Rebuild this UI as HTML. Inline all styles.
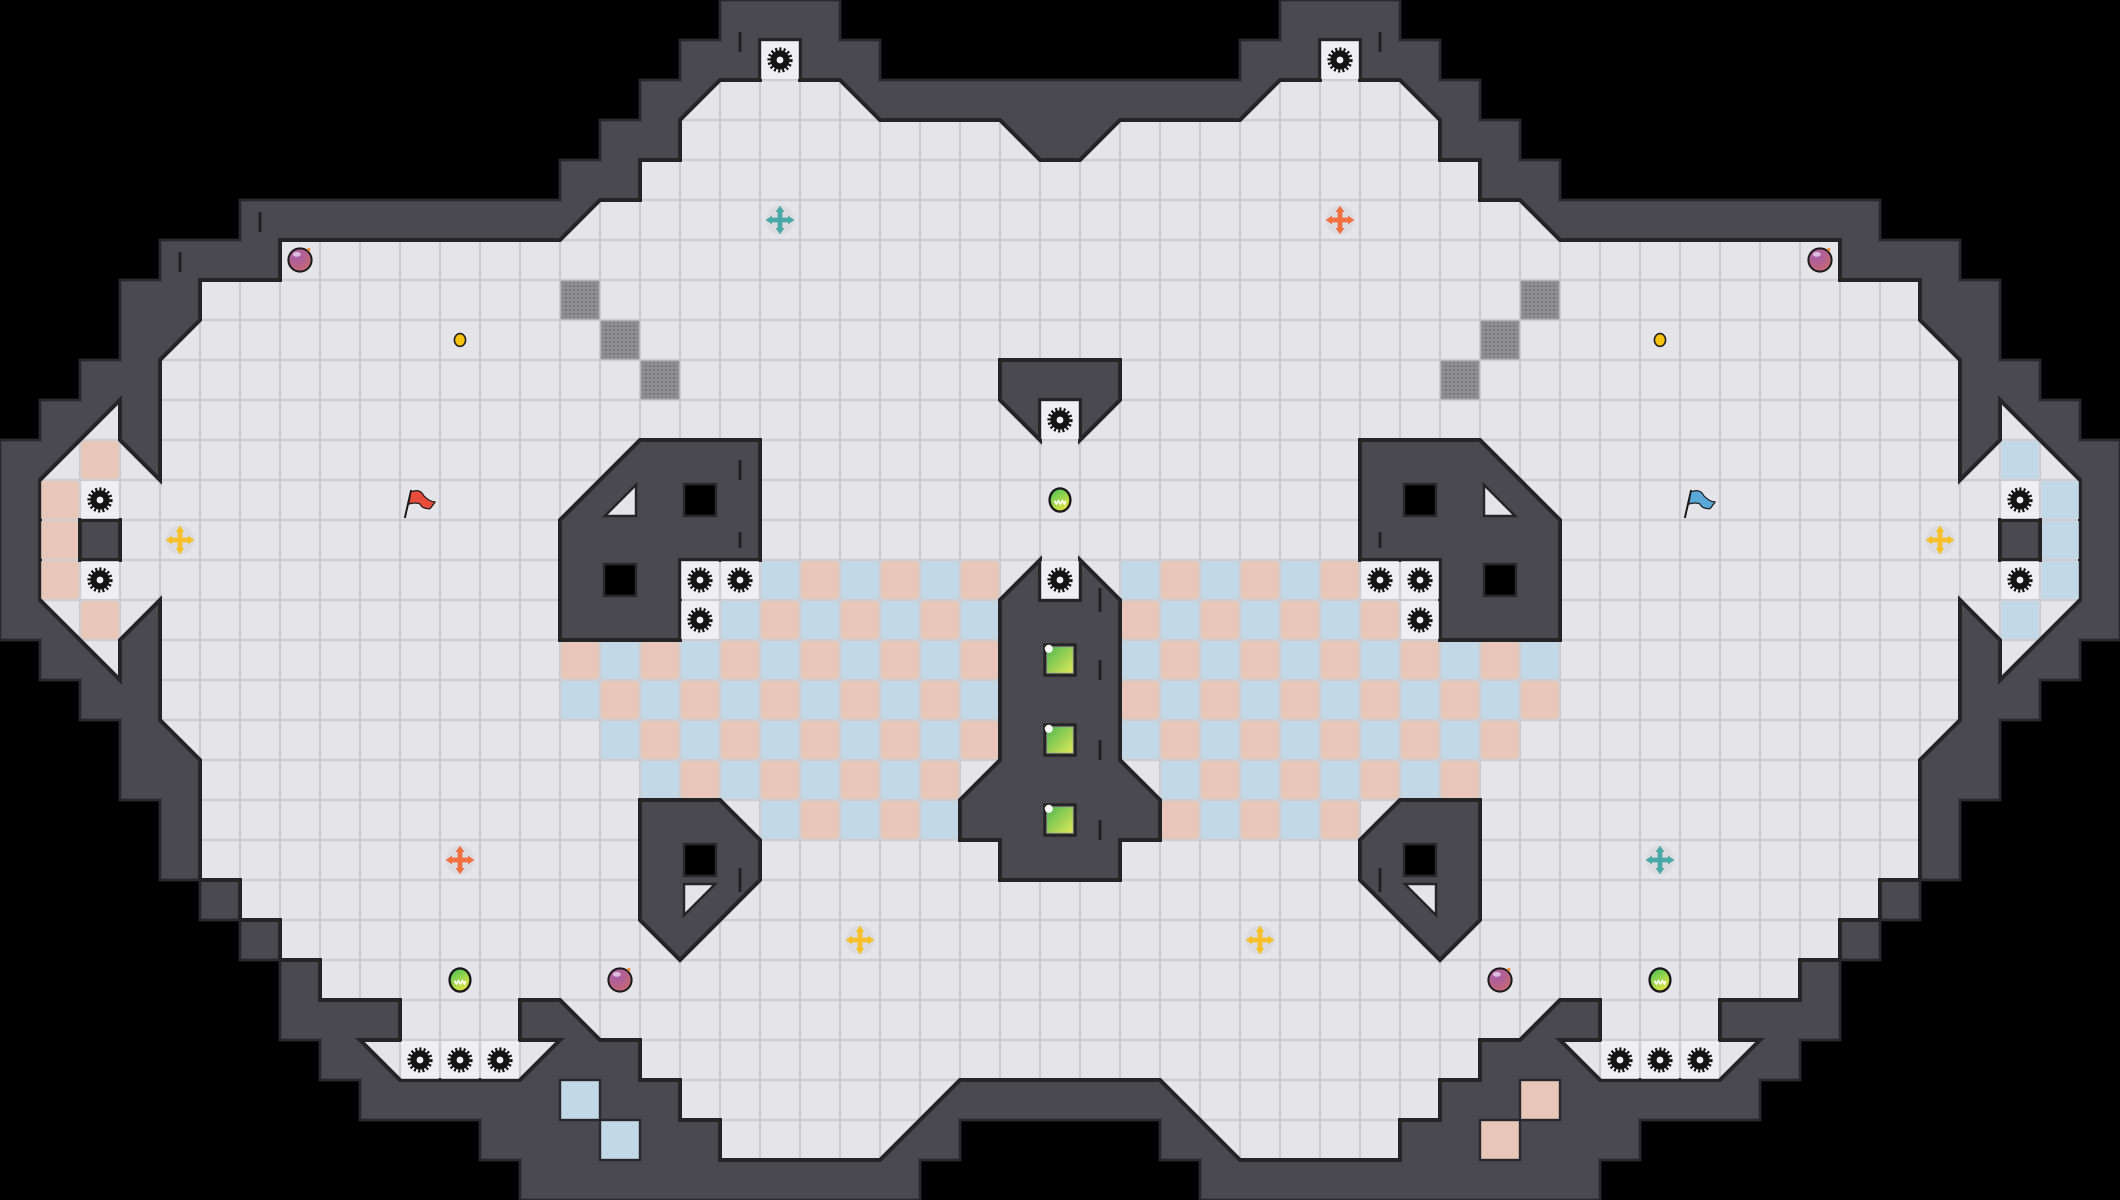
<!DOCTYPE html>
<html><head><meta charset="utf-8"><style>html,body{margin:0;padding:0;background:#000;}svg{display:block;}</style></head>
<body>
<svg width="2120" height="1200" viewBox="0 0 53 30" xmlns="http://www.w3.org/2000/svg">
<defs>
<pattern id="fl" width="1" height="1" patternUnits="userSpaceOnUse"><rect width="1" height="1" fill="#cdcdd2"/><rect x="0.03" y="0.03" width="0.94" height="0.94" fill="#e5e5e9"/></pattern>
<pattern id="cl" width="2" height="2" patternUnits="userSpaceOnUse"><rect width="2" height="2" fill="#cdcdd2"/>
<rect x="0.03" y="0.03" width="0.94" height="0.94" fill="#e8c6b9"/><rect x="1.03" y="1.03" width="0.94" height="0.94" fill="#e8c6b9"/>
<rect x="1.03" y="0.03" width="0.94" height="0.94" fill="#c3d8e7"/><rect x="0.03" y="1.03" width="0.94" height="0.94" fill="#c3d8e7"/></pattern>
<pattern id="cr" width="2" height="2" patternUnits="userSpaceOnUse"><rect width="2" height="2" fill="#cdcdd2"/>
<rect x="0.03" y="0.03" width="0.94" height="0.94" fill="#c3d8e7"/><rect x="1.03" y="1.03" width="0.94" height="0.94" fill="#c3d8e7"/>
<rect x="1.03" y="0.03" width="0.94" height="0.94" fill="#e8c6b9"/><rect x="0.03" y="1.03" width="0.94" height="0.94" fill="#e8c6b9"/></pattern>
<pattern id="dt" width="0.1" height="0.1" patternUnits="userSpaceOnUse"><rect width="0.1" height="0.1" fill="#8e8e93"/><circle cx="0.05" cy="0.05" r="0.022" fill="#66666b"/></pattern>
<radialGradient id="bomb" cx="0.35" cy="0.3" r="0.8"><stop offset="0" stop-color="#a45ab0"/><stop offset="1" stop-color="#c86a6a"/></radialGradient>
<linearGradient id="orb" x1="0" y1="0" x2="0.6" y2="1"><stop offset="0" stop-color="#3cbf5a"/><stop offset="1" stop-color="#e6e642"/></linearGradient>
<linearGradient id="sq" x1="0" y1="0" x2="1" y2="1"><stop offset="0" stop-color="#4fb84e"/><stop offset="1" stop-color="#e0e85a"/></linearGradient>
<g id="gr"><rect x="-0.47" y="-0.47" width="0.94" height="0.94" fill="#efeff2"/><circle r="0.24" fill="#141414"/><circle r="0.27" fill="none" stroke="#141414" stroke-width="0.09" stroke-dasharray="0.052 0.052"/><circle r="0.085" fill="#f4f4f6"/></g>
<g id="mv"><circle r="0.36" fill="#d8d8dc" opacity="0.7"/>
<path d="M-0.24 0H0.24M0 -0.24V0.24" stroke="currentColor" stroke-width="0.12"/>
<path d="M0 -0.36L-0.11 -0.2H0.11Z M0 0.36L-0.11 0.2H0.11Z M-0.36 0L-0.2 -0.11V0.11Z M0.36 0L0.2 -0.11V0.11Z" fill="currentColor"/></g>
<g id="bm"><circle r="0.29" fill="url(#bomb)" stroke="#1a1a1a" stroke-width="0.05"/><ellipse cx="-0.08" cy="-0.14" rx="0.1" ry="0.06" fill="#fff" opacity="0.6"/><circle cx="0.22" cy="-0.26" r="0.04" fill="#f08a30"/></g>
<g id="ob"><ellipse rx="0.26" ry="0.29" fill="url(#orb)" stroke="#1a1a1a" stroke-width="0.06"/><path d="M-0.14 0.02L-0.09 0.1L-0.04 0.02L0.01 0.1L0.06 0.02L0.11 0.1L0.14 0.02" fill="none" stroke="#fff" stroke-width="0.04"/></g>
<g id="gs"><rect x="-0.42" y="-0.42" width="0.84" height="0.84" fill="#252528"/><rect x="-0.33" y="-0.33" width="0.66" height="0.66" fill="url(#sq)" stroke="#9a9a9a" stroke-width="0.02"/><circle cx="-0.28" cy="-0.28" r="0.1" fill="#fff"/></g>
</defs>
<rect width="53" height="30" fill="#000"/>
<polygon fill="#4a494f" stroke="#2a2a2e" stroke-width="0.07" points="22,2 22,1 21,1 21,0 18,0 18,1 17,1 17,2 16,2 16,3 15,3 15,4 14,4 14,5 6,5 6,6 4,6 4,7 3,7 3,9 2,9 2,10 1,10 1,11 0,11 0,16 1,16 1,17 2,17 2,18 3,18 3,20 4,20 4,22 5,22 5,23 6,23 6,24 7,24 7,26 8,26 8,27 9,27 9,28 12,28 12,29 13,29 13,30 23,30 23,29 24,29 24,28 29,28 29,29 30,29 30,30 40,30 40,29 41,29 41,28 44,28 44,27 45,27 45,26 46,26 46,24 47,24 47,23 48,23 48,22 49,22 49,20 50,20 50,18 51,18 51,17 52,17 52,16 53,16 53,11 52,11 52,10 51,10 51,9 50,9 50,7 49,7 49,6 47,6 47,5 39,5 39,4 38,4 38,3 37,3 37,2 36,2 36,1 35,1 35,0 32,0 32,1 31,1 31,2"/>
<polygon fill="url(#fl)" stroke="#252528" stroke-width="0.1" points="26,4 25,3 22,3 21,2 20,2 20,1 19,1 19,2 18,2 17,3 17,4 16,4 16,5 15,5 14,6 7,6 7,7 5,7 5,8 4,9 4,12 3,11 3,10 1,12 1,15 3,17 3,16 4,15 4,18 5,19 5,22 6,22 6,23 7,23 7,24 8,24 8,25 10,25 10,26 9,26 10,27 13,27 14,26 13,26 13,25 14,25 15,26 16,26 16,27 17,27 17,28 18,28 18,29 22,29 24,27 29,27 31,29 35,29 35,28 36,28 36,27 37,27 37,26 38,26 39,25 40,25 40,26 39,26 40,27 43,27 44,26 43,26 43,25 45,25 45,24 46,24 46,23 47,23 47,22 48,22 48,19 49,18 49,15 50,16 50,17 52,15 52,12 50,10 50,11 49,12 49,9 48,8 48,7 46,7 46,6 39,6 38,5 37,5 37,4 36,4 36,3 35,2 34,2 34,1 33,1 33,2 32,2 31,3 28,3 27,4"/>
<polygon fill="url(#cl)" points="19,14 25,14 25,19 24,19 24,21 19,21 19,20 16,20 16,19 15,19 15,18 14,18 14,16 18,16 18,15 19,15"/>
<polygon fill="url(#cr)" points="28,14 34,14 34,15 35,15 35,16 39,16 39,18 38,18 38,19 37,19 37,20 34,20 34,21 29,21 29,19 28,19"/>
<g fill="#e8c6b9"><rect x="1.03" y="12.03" width="0.94" height="0.94"/><rect x="1.03" y="13.03" width="0.94" height="0.94"/><rect x="1.03" y="14.03" width="0.94" height="0.94"/><rect x="2.03" y="11.03" width="0.94" height="0.94"/><rect x="2.03" y="15.03" width="0.94" height="0.94"/>
<rect x="38" y="27" width="1" height="1" stroke="#2a2a2e" stroke-width="0.06"/><rect x="37" y="28" width="1" height="1" stroke="#2a2a2e" stroke-width="0.06"/></g>
<g fill="#c3d8e7"><rect x="51.03" y="12.03" width="0.94" height="0.94"/><rect x="51.03" y="13.03" width="0.94" height="0.94"/><rect x="51.03" y="14.03" width="0.94" height="0.94"/><rect x="50.03" y="11.03" width="0.94" height="0.94"/><rect x="50.03" y="15.03" width="0.94" height="0.94"/>
<rect x="14" y="27" width="1" height="1" stroke="#2a2a2e" stroke-width="0.06"/><rect x="15" y="28" width="1" height="1" stroke="#2a2a2e" stroke-width="0.06"/></g>
<g fill="url(#dt)" stroke="#9c9ca0" stroke-width="0.04"><rect x="14.03" y="7.03" width="0.94" height="0.94"/><rect x="15.03" y="8.03" width="0.94" height="0.94"/><rect x="16.03" y="9.03" width="0.94" height="0.94"/><rect x="38.03" y="7.03" width="0.94" height="0.94"/><rect x="37.03" y="8.03" width="0.94" height="0.94"/><rect x="36.03" y="9.03" width="0.94" height="0.94"/></g>
<g fill="#4a494f" stroke="#252528" stroke-width="0.1">
<rect x="2" y="13" width="1" height="1"/><rect x="50" y="13" width="1" height="1"/>
<polygon points="25,9 28,9 28,10 27,11 27,10 26,10 26,11 25,10"/>
<polygon points="26,14 26,15 27,15 27,14 28,15 28,19 29,20 29,21 28,21 28,22 25,22 25,21 24,21 24,20 25,19 25,15"/>
<polygon points="16,11 19,11 19,14 17,14 17,16 14,16 14,13"/>
<polygon points="37,11 34,11 34,14 36,14 36,16 39,16 39,13"/>
<polygon points="16,20 18,20 19,21 19,22 17,24 16,23"/>
<polygon points="37,20 35,20 34,21 34,22 36,24 37,23"/>
</g>
<g fill="#000" stroke="#2a2a2e" stroke-width="0.06">
<rect x="17.1" y="12.1" width="0.8" height="0.8"/><rect x="15.1" y="14.1" width="0.8" height="0.8"/>
<rect x="35.1" y="12.1" width="0.8" height="0.8"/><rect x="37.1" y="14.1" width="0.8" height="0.8"/>
<rect x="17.1" y="21.1" width="0.8" height="0.8"/><rect x="35.1" y="21.1" width="0.8" height="0.8"/>
</g>
<g fill="#e5e5e9" stroke="#252528" stroke-width="0.06">
<polygon points="15.12,12.9 15.9,12.9 15.9,12.12"/><polygon points="37.88,12.9 37.1,12.9 37.1,12.12"/>
<polygon points="17.1,22.1 17.88,22.1 17.1,22.88"/><polygon points="35.9,22.1 35.12,22.1 35.9,22.88"/>
</g>
<g stroke="#1e1e22" stroke-width="0.07">
<path d="M18.5 21.7V22.3M34.5 21.7V22.3M18.5 13.3V13.7M34.5 13.3V13.7M27.5 16.5V17M27.5 18.5V19M27.5 20.5V21M27.5 14.7V15.3M18.5 11.5V12M4.5 6.3V6.8M6.5 5.3V5.8M18.5 0.8V1.3M34.5 0.8V1.3"/>
</g>
<use href="#gr" x="19.5" y="1.5"/><use href="#gr" x="33.5" y="1.5"/>
<use href="#gr" x="26.5" y="10.5"/><use href="#gr" x="26.5" y="14.5"/>
<use href="#gr" x="17.5" y="14.5"/><use href="#gr" x="18.5" y="14.5"/><use href="#gr" x="17.5" y="15.5"/>
<use href="#gr" x="34.5" y="14.5"/><use href="#gr" x="35.5" y="14.5"/><use href="#gr" x="35.5" y="15.5"/>
<use href="#gr" x="2.5" y="12.5"/><use href="#gr" x="2.5" y="14.5"/>
<use href="#gr" x="50.5" y="12.5"/><use href="#gr" x="50.5" y="14.5"/>
<use href="#gr" x="10.5" y="26.5"/><use href="#gr" x="11.5" y="26.5"/><use href="#gr" x="12.5" y="26.5"/>
<use href="#gr" x="40.5" y="26.5"/><use href="#gr" x="41.5" y="26.5"/><use href="#gr" x="42.5" y="26.5"/>
<use href="#gs" x="26.5" y="16.5"/><use href="#gs" x="26.5" y="18.5"/><use href="#gs" x="26.5" y="20.5"/>
<use href="#bm" x="7.5" y="6.5"/><use href="#bm" x="45.5" y="6.5"/><use href="#bm" x="15.5" y="24.5"/><use href="#bm" x="37.5" y="24.5"/>
<use href="#ob" x="26.5" y="12.5"/><use href="#ob" x="11.5" y="24.5"/><use href="#ob" x="41.5" y="24.5"/>
<ellipse cx="11.5" cy="8.5" rx="0.14" ry="0.16" fill="#f6c20e" stroke="#222" stroke-width="0.04"/>
<ellipse cx="41.5" cy="8.5" rx="0.14" ry="0.16" fill="#f6c20e" stroke="#222" stroke-width="0.04"/>
<use href="#mv" x="19.5" y="5.5" color="#4aa8a8"/><use href="#mv" x="33.5" y="5.5" color="#f07040"/>
<use href="#mv" x="4.5" y="13.5" color="#f6c02a"/><use href="#mv" x="48.5" y="13.5" color="#f6c02a"/>
<use href="#mv" x="11.5" y="21.5" color="#f07040"/><use href="#mv" x="41.5" y="21.5" color="#4aa8a8"/>
<use href="#mv" x="21.5" y="23.5" color="#f6c02a"/><use href="#mv" x="31.5" y="23.5" color="#f6c02a"/>
<g stroke="#1a1a1a" stroke-width="0.05" stroke-linejoin="round">
<path d="M10.12 12.95L10.28 12.25" fill="none"/><path d="M10.27 12.3Q10.5 12.2 10.6 12.4Q10.75 12.55 10.88 12.55L10.75 12.72Q10.55 12.72 10.5 12.6Q10.4 12.55 10.22 12.6Z" fill="#e84c3c" stroke-width="0.03"/>
<path d="M42.12 12.95L42.28 12.25" fill="none"/><path d="M42.27 12.3Q42.5 12.2 42.6 12.4Q42.75 12.55 42.88 12.55L42.75 12.72Q42.55 12.72 42.5 12.6Q42.4 12.55 42.22 12.6Z" fill="#5aa8d8" stroke-width="0.03"/>
</g>
</svg>
</body></html>
